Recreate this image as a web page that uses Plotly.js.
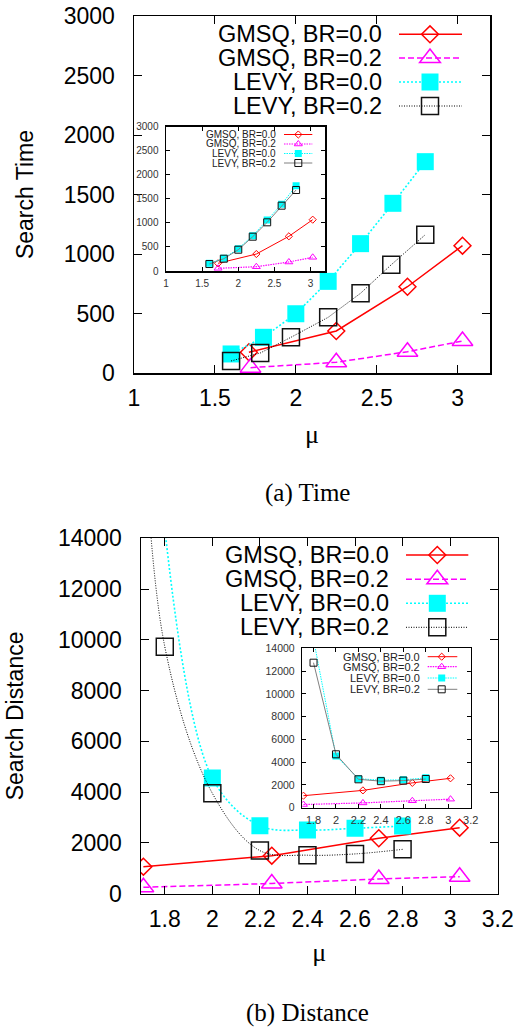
<!DOCTYPE html>
<html>
<head>
<meta charset="utf-8">
<script src="https://cdn.plot.ly/plotly-3.0.1.min.js"></script>
<style>html,body{margin:0;padding:0;background:#fff;}#chart{width:517px;height:1028px;}</style>
</head>
<body>
<div id="chart"></div>
<script>
// ---------------- DATA ----------------
const seriesNames = ["GMSQ, BR=0.0", "GMSQ, BR=0.2", "LEVY, BR=0.0", "LEVY, BR=0.2"];

// (a) Time - main plot
const timeGmsq0X = [1.71, 2.25, 2.69, 3.03];
const timeGmsq0Y = [174, 353, 725, 1070];
const timeGmsq2X = [1.72, 2.25, 2.69, 3.03];
const timeGmsq2Y = [45, 90, 179, 269];
const timeLevy0X = [1.6, 1.8, 2.0, 2.2, 2.4, 2.6, 2.8];
const timeLevy0Y = [160, 300, 498, 770, 1087, 1426, 1776];
const timeLevy2X = [1.6, 1.78, 1.97, 2.2, 2.4, 2.59, 2.8];
const timeLevy2Y = [101, 168, 300, 468, 670, 910, 1162];

// (a) Time - inset
const timeInGmsq0X = [1.72, 2.25, 2.70, 3.03];
const timeInGmsq0Y = [160, 353, 721, 1067];
const timeInGmsq2X = [1.72, 2.25, 2.70, 3.03];
const timeInGmsq2Y = [56, 89, 187, 285];
const timeInLevy0X = [1.6, 1.8, 2.0, 2.2, 2.4, 2.6, 2.8];
const timeInLevy0Y = [160, 264, 464, 734, 1060, 1387, 1773];
const timeInLevy2X = [1.6, 1.8, 2.0, 2.2, 2.4, 2.6, 2.8];
const timeInLevy2Y = [145, 256, 443, 713, 1012, 1358, 1684];

// (b) Distance - main plot
const distGmsq0X = [1.71, 2.25, 2.70, 3.04];
const distGmsq0Y = [1057, 1490, 2177, 2595];
const distGmsq2X = [1.71, 2.25, 2.70, 3.04];
const distGmsq2Y = [244, 394, 572, 663];
const distLevy0X = [1.8, 2.0, 2.2, 2.4, 2.6, 2.8];
const distLevy0Y = [14400, 4550, 2670, 2500, 2570, 2660];
const distLevy2X = [1.7, 1.8, 2.0, 2.2, 2.4, 2.6, 2.8];
const distLevy2Y = [21000, 9730, 3950, 1690, 1510, 1560, 1740];

// (b) Distance - inset
const distInGmsq0X = [1.71, 2.24, 2.68, 3.02];
const distInGmsq0Y = [1054, 1520, 2180, 2582];
const distInGmsq2X = [1.71, 2.24, 2.68, 3.02];
const distInGmsq2Y = [280, 420, 610, 750];
const distInLevy0X = [1.8, 2.0, 2.2, 2.4, 2.6, 2.8];
const distInLevy0Y = [14800, 4540, 2550, 2420, 2450, 2620];
const distInLevy2X = [1.8, 2.0, 2.2, 2.4, 2.6, 2.8];
const distInLevy2Y = [12735, 4690, 2494, 2330, 2380, 2520];

const timeYTicks = [0, 500, 1000, 1500, 2000, 2500, 3000];
const timeYLabels = ["0", "500", "1000", "1500", "2000", "2500", "3000"];
const timeXTicks = [1, 1.5, 2, 2.5, 3];
const timeXLabels = ["1", "1.5", "2", "2.5", "3"];
const distYTicks = [0, 2000, 4000, 6000, 8000, 10000, 12000, 14000];
const distYLabels = ["0", "2000", "4000", "6000", "8000", "10000", "12000", "14000"];
const distXTicks = [1.8, 2, 2.2, 2.4, 2.6, 2.8, 3, 3.2];
const distXLabels = ["1.8", "2", "2.2", "2.4", "2.6", "2.8", "3", "3.2"];
const captions = ["(a) Time", "(b) Distance"];

// ---------------- LAYOUT HELPERS ----------------
const W = 517, H = 1028;
const fx = p => p / W;
const fy = p => 1 - p / H;
const SANS = "Liberation Sans, Arial, Helvetica, sans-serif";
const SERIF = "Liberation Serif, Times New Roman, serif";

const RED = "#ff0000", MAG = "#ff00ff", CYA = "#00ffff", BLK = "#111111", GRY = "#808080";

const mainStyle = [
  {line: {color: RED, width: 1.5, dash: "solid"}, marker: {symbol: "diamond-open", size: 13, color: RED, line: {width: 1.5, color: RED}}},
  {line: {color: MAG, width: 1.5, dash: "6px,3px"}, marker: {symbol: "triangle-up-open", size: 18, color: MAG, line: {width: 1.5, color: MAG}}},
  {line: {color: CYA, width: 1.6, dash: "2px,2px"}, marker: {symbol: "square", size: 17, color: CYA, line: {width: 0}}},
  {line: {color: "#000", width: 1, dash: "1px,1.5px"}, marker: {symbol: "square-open", size: 17, color: BLK, line: {width: 1.5, color: BLK}}}
];
const insetStyle = [
  {line: {color: RED, width: 1, dash: "solid"}, marker: {symbol: "diamond-open", size: 5.5, color: RED, line: {width: 1, color: RED}}},
  {line: {color: MAG, width: 1.2, dash: "1.5px,1px"}, marker: {symbol: "triangle-up-open", size: 7, color: MAG, line: {width: 1, color: MAG}}},
  {line: {color: CYA, width: 1, dash: "1.5px,1px"}, marker: {symbol: "square", size: 7, color: CYA, line: {width: 0}}},
  {line: {color: GRY, width: 1, dash: "solid"}, marker: {symbol: "square-open", size: 7, color: BLK, line: {width: 1, color: BLK}}}
];

function mk(x, y, idx, style, xa, ya, shape) {
  const s = style[idx];
  return {
    type: "scatter", mode: "lines+markers", name: seriesNames[idx],
    x: x, y: y, xaxis: xa, yaxis: ya,
    line: Object.assign({shape: shape || "linear", smoothing: 1}, s.line),
    marker: s.marker, showlegend: false, cliponaxis: true, hoverinfo: "x+y+name"
  };
}

const traces = [
  mk(timeGmsq0X, timeGmsq0Y, 0, mainStyle, "x", "y"),
  mk(timeGmsq2X, timeGmsq2Y, 1, mainStyle, "x", "y"),
  mk(timeLevy0X, timeLevy0Y, 2, mainStyle, "x", "y"),
  mk(timeLevy2X, timeLevy2Y, 3, mainStyle, "x", "y"),
  mk(timeInGmsq0X, timeInGmsq0Y, 0, insetStyle, "x2", "y2"),
  mk(timeInGmsq2X, timeInGmsq2Y, 1, insetStyle, "x2", "y2"),
  mk(timeInLevy0X, timeInLevy0Y, 2, insetStyle, "x2", "y2"),
  mk(timeInLevy2X, timeInLevy2Y, 3, insetStyle, "x2", "y2"),
  mk(distGmsq0X, distGmsq0Y, 0, mainStyle, "x3", "y3"),
  mk(distGmsq2X, distGmsq2Y, 1, mainStyle, "x3", "y3"),
  mk(distLevy0X, distLevy0Y, 2, mainStyle, "x3", "y3", "spline"),
  mk(distLevy2X, distLevy2Y, 3, mainStyle, "x3", "y3", "spline"),
  mk(distInGmsq0X, distInGmsq0Y, 0, insetStyle, "x4", "y4"),
  mk(distInGmsq2X, distInGmsq2Y, 1, insetStyle, "x4", "y4"),
  mk(distInLevy0X, distInLevy0Y, 2, insetStyle, "x4", "y4"),
  mk(distInLevy2X, distInLevy2Y, 3, insetStyle, "x4", "y4")
];

function axis(opts) {
  return Object.assign({
    showline: true, linecolor: "#000", linewidth: 1.5, mirror: "ticks",
    ticks: "inside", tickcolor: "#000", tickwidth: 1, showgrid: false, zeroline: false,
    tickmode: "array", fixedrange: true, automargin: false
  }, opts);
}

const mainTick = {family: SANS, size: 23, color: "#000"};
const insetTick = {family: SANS, size: 10, color: "#333"};

const layout = {
  width: W, height: H, margin: {l: 0, r: 0, t: 0, b: 0},
  paper_bgcolor: "#fff", plot_bgcolor: "rgba(0,0,0,0)",
  showlegend: false, font: {family: SANS, color: "#000"},
  xaxis: axis({domain: [fx(134), fx(490)], range: [1, 3.2], anchor: "y", tickvals: timeXTicks, ticktext: timeXLabels, ticklen: 8,
    tickfont: mainTick, ticklabelstandoff: 4,
    title: {text: "μ", font: {family: SERIF, size: 26}, standoff: 14}}),
  yaxis: axis({domain: [fy(373), fy(16)], range: [0, 3000], anchor: "x", tickvals: timeYTicks, ticktext: timeYLabels, ticklen: 8,
    tickfont: mainTick, ticklabelstandoff: 13,
    title: {text: "Search Time", font: {family: SANS, size: 23}, standoff: 23.5}}),
  xaxis2: axis({domain: [fx(166), fx(325)], range: [1, 3.2], anchor: "y2", tickvals: timeXTicks, ticktext: timeXLabels, ticklen: 4,
    tickfont: insetTick, ticklabelstandoff: 2}),
  yaxis2: axis({domain: [fy(271), fy(126.7)], range: [0, 3000], anchor: "x2", tickvals: timeYTicks, ticktext: timeYLabels, ticklen: 4,
    tickfont: insetTick, ticklabelstandoff: 4}),
  xaxis3: axis({domain: [fx(141), fx(497.7)], range: [1.7, 3.2], anchor: "y3", tickvals: distXTicks, ticktext: distXLabels, ticklen: 8,
    tickfont: mainTick, ticklabelstandoff: 4,
    title: {text: "μ", font: {family: SERIF, size: 26}, standoff: 12}}),
  yaxis3: axis({domain: [fy(893.5), fy(538.3)], range: [0, 14000], anchor: "x3", tickvals: distYTicks, ticktext: distYLabels, ticklen: 8,
    tickfont: mainTick, ticklabelstandoff: 13,
    title: {text: "Search Distance", font: {family: SANS, size: 23}, standoff: 27.5}}),
  xaxis4: axis({domain: [fx(302.3), fx(470.7)], range: [1.7, 3.2], anchor: "y4", tickvals: distXTicks, ticktext: distXLabels, ticklen: 4,
    tickfont: {family: SANS, size: 11, color: "#333"}, ticklabelstandoff: 2}),
  yaxis4: axis({domain: [fy(807.7), fy(648.3)], range: [0, 14000], anchor: "x4", tickvals: distYTicks, ticktext: distYLabels, ticklen: 4,
    tickfont: {family: SANS, size: 10.5, color: "#333"}, ticklabelstandoff: 4}),
  shapes: [], annotations: []
};

// ---------------- LEGEND KEYS (gnuplot style: text, then sample) ----------------
function pathFor(symbol, cx, cy, size) {
  const P = (x, y) => fx(x) + "," + fy(y);
  const r = size / 2;
  if (symbol.startsWith("diamond")) {
    const d = r * 1.3;
    return "M" + P(cx - d, cy) + " L" + P(cx, cy - d) + " L" + P(cx + d, cy) + " L" + P(cx, cy + d) + " Z";
  }
  if (symbol.startsWith("triangle")) {
    const rt = r * 2 / Math.sqrt(3);
    return "M" + P(cx - rt, cy + r / 2) + " L" + P(cx + rt, cy + r / 2) + " L" + P(cx, cy - r) + " Z";
  }
  return "M" + P(cx - r, cy - r) + " L" + P(cx + r, cy - r) + " L" + P(cx + r, cy + r) + " L" + P(cx - r, cy + r) + " Z";
}

function addLegend(style, rows, textRight, x1, x2, xm, fontSize, fontColor) {
  rows.forEach((ry, i) => {
    const s = style[i];
    layout.annotations.push({
      xref: "paper", yref: "paper", x: fx(textRight), y: fy(ry), xanchor: "right", yanchor: "middle",
      text: seriesNames[i], showarrow: false, borderpad: 0, font: {family: SANS, size: fontSize, color: fontColor}
    });
    layout.shapes.push({
      type: "line", xref: "paper", yref: "paper", x0: fx(x1), x1: fx(x2), y0: fy(ry), y1: fy(ry),
      line: {color: s.line.color, width: s.line.width, dash: s.line.dash}
    });
    const open = s.marker.symbol.endsWith("open");
    layout.shapes.push({
      type: "path", xref: "paper", yref: "paper", path: pathFor(s.marker.symbol, xm, ry, s.marker.size),
      fillcolor: open ? "rgba(0,0,0,0)" : s.marker.color,
      line: {color: open ? s.marker.color : "rgba(0,0,0,0)", width: open ? s.marker.line.width : 0}
    });
  });
}

addLegend(mainStyle, [34.3, 58, 82, 106], 383, 399, 462, 430, 23.5, "#000");
addLegend(insetStyle, [134.5, 144, 153.5, 163], 277.3, 284, 312.3, 298.3, 10, "#222");
addLegend(mainStyle, [555, 579.3, 603.3, 627.3], 390, 406, 468.3, 437.3, 23.5, "#000");
addLegend(insetStyle, [656.7, 666.7, 678, 689.3], 420.7, 427.7, 457.3, 441.7, 11, "#222");

// captions
layout.annotations.push({xref: "paper", yref: "paper", x: fx(307), y: fy(493), xanchor: "center", yanchor: "middle",
  text: captions[0], showarrow: false, borderpad: 0, font: {family: SERIF, size: 25, color: "#000"}});
layout.annotations.push({xref: "paper", yref: "paper", x: fx(307), y: fy(1013), xanchor: "center", yanchor: "middle",
  text: captions[1], showarrow: false, borderpad: 0, font: {family: SERIF, size: 25, color: "#000"}});

Plotly.newPlot("chart", traces, layout, {staticPlot: true, displayModeBar: false});
</script>
</body>
</html>
